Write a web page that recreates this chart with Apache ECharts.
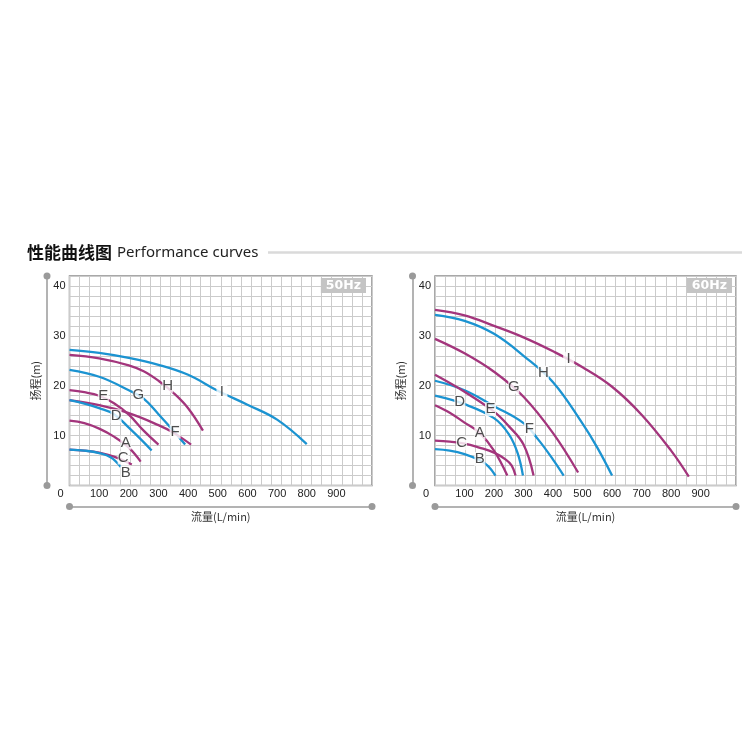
<!DOCTYPE html>
<html>
<head>
<meta charset="utf-8">
<script src="https://cdn.jsdelivr.net/npm/echarts@6/dist/echarts.min.js"></script>
<style>html,body{margin:0;padding:0;background:#fff}#c{width:750px;height:750px}</style>
</head>
<body>
<div id="c"></div>
<script>
// ---- Data (flow L/min, head m) ----
const xTickLabels = [0,100,200,300,400,500,600,700,800,900];
const yTickLabels = [10,20,30,40];

// 50Hz curves
const hz50_I = [[0,27.2],[100,26.6],[200,25.6],[300,24.2],[400,22.2],[500,19.0],[600,16.2],[700,13.2],[800,8.3]];
const hz50_H = [[0,26.2],[100,25.5],[200,24.1],[250,22.9],[300,21.0],[350,18.6],[400,15.5],[450,11.0]];
const hz50_G = [[0,23.2],[100,21.8],[200,19.1],[250,17.4],[300,14.3],[350,11.0],[390,8.2]];
const hz50_F = [[0,17.1],[100,16.1],[200,14.5],[300,12.1],[350,10.6],[410,8.2]];
const hz50_E = [[0,19.1],[50,18.7],[100,18.0],[150,16.5],[200,14.2],[250,11.0],[300,8.2]];
const hz50_D = [[0,17.1],[50,16.4],[100,15.5],[150,14.3],[200,11.6],[250,8.7],[277,7.0]];
const hz50_A = [[0,13.0],[50,12.5],[100,11.4],[150,9.8],[200,7.6],[240,4.8]];
const hz50_C = [[0,7.2],[50,7.0],[100,6.6],[150,5.8],[210,4.2]];
const hz50_B = [[0,7.2],[50,7.0],[100,6.5],[140,5.6],[173,3.7]];
const hz50_labels = [['I',514,18.8],['H',331,20.0],['G',232,18.2],['F',356,10.8],['E',114,17.9],['D',157,13.9],['A',190,8.6],['C',181,5.6],['B',190,2.6]];

// 60Hz curves
const hz60_I = [[0,35.2],[100,34.1],[200,32.0],[300,29.7],[400,26.9],[500,23.7],[600,19.8],[700,14.2],[800,7.0],[860,1.8]];
const hz60_H = [[0,34.2],[100,33.0],[200,30.4],[300,26.0],[400,20.7],[500,12.4],[550,7.6],[600,2.0]];
const hz60_G = [[0,29.4],[100,26.5],[200,22.8],[300,17.8],[400,10.5],[485,2.6]];
const hz60_F = [[0,21.0],[100,19.1],[200,15.9],[300,12.5],[350,9.2],[400,5.2],[436,2.0]];
const hz60_E = [[0,22.2],[100,18.8],[200,14.8],[250,11.9],[300,8.2],[334,2.0]];
const hz60_D = [[0,18.0],[100,16.3],[200,13.5],[250,10.3],[280,6.5],[298,2.0]];
const hz60_A = [[0,16.1],[50,14.6],[100,12.6],[150,10.6],[200,7.0],[245,2.0]];
const hz60_C = [[0,9.0],[50,8.8],[100,8.4],[150,7.6],[200,6.6],[240,5.2],[260,4.0],[273,2.0]];
const hz60_B = [[0,7.3],[50,7.0],[100,6.3],[150,5.1],[180,3.9],[205,2.0]];
const hz60_labels = [['I',453,25.4],['H',367,22.6],['G',267,19.8],['F',320,11.4],['E',188,15.3],['D',84,16.7],['A',152,10.5],['C',90,8.5],['B',152,5.3]];

// ---- Styles ----
const BLUE = '#1b93d1', MAG = '#a3357c';
const panels = [
  {grid:{left:69.5, top:276, width:302.5, height:209.5}, badge:'50Hz', badgeRight:384,
   curves:[[hz50_I,BLUE],[hz50_H,MAG],[hz50_G,BLUE],[hz50_F,MAG],[hz50_E,MAG],[hz50_D,BLUE],[hz50_A,MAG],[hz50_C,MAG],[hz50_B,BLUE]],
   labels:hz50_labels},
  {grid:{left:435, top:276, width:301, height:209.5}, badge:'60Hz', badgeRight:18,
   curves:[[hz60_I,MAG],[hz60_H,BLUE],[hz60_G,MAG],[hz60_F,BLUE],[hz60_E,MAG],[hz60_D,BLUE],[hz60_A,MAG],[hz60_C,MAG],[hz60_B,BLUE]],
   labels:hz60_labels}
];
const XMAX = 1020, YMAX = 42;
const FONT = 'Liberation Sans, Arial, sans-serif';
const GRIDC = '#cbcbcb';

const option = {
  animation:false,
  backgroundColor:'#fff',
  title:[{
    left:22, top:239,
    text:'{a|性能曲线图} {b|Performance curves}',
    textStyle:{rich:{
      a:{fontFamily:'Noto Sans CJK SC', fontWeight:'bold', fontSize:17, color:'#111'},
      b:{fontFamily:'Noto Sans', fontWeight:'normal', fontSize:15, color:'#222'}
    }}
  }],
  graphic:[{type:'line', shape:{x1:268,y1:252.5,x2:742,y2:252.5}, style:{stroke:'#dadada', lineWidth:2.5}}],
  grid:[], xAxis:[], yAxis:[], series:[]
};

panels.forEach((p, gi) => {
  option.grid.push(Object.assign({show:true, borderColor:'#8c8c8c', borderWidth:1.5, backgroundColor:'#fff'}, p.grid));
  option.title.push({
    text:p.badge, right:p.badgeRight, top:278,
    backgroundColor:'#c4c4c4', padding:[1,5,1,5],
    textStyle:{color:'#fff', fontSize:12.5, fontWeight:'bold', fontFamily:'DejaVu Sans'}
  });
  const xb = option.xAxis.length;
  option.xAxis.push({gridIndex:gi, type:'value', position:'bottom', min:0, max:XMAX, interval:100,
    axisLine:{show:false}, axisTick:{show:false}, splitLine:{show:false},
    axisLabel:{margin:3, fontSize:11, color:'#222', fontFamily:FONT, showMaxLabel:false,
      formatter:v => v === 0 ? '{z|0}' : (xTickLabels.indexOf(v) >= 0 ? String(v) : ''),
      rich:{z:{fontSize:11, color:'#222', fontFamily:FONT, padding:[0,18,0,0]}}}});
  option.xAxis.push({gridIndex:gi, type:'value', position:'bottom', min:0, max:XMAX, interval:34,
    axisLine:{show:false}, axisTick:{show:false}, axisLabel:{show:false},
    splitLine:{show:true, lineStyle:{color:GRIDC, width:1}}});
  option.xAxis.push({gridIndex:gi, type:'value', position:'bottom', offset:21, min:0, max:XMAX,
    axisLine:{show:true, onZero:false, lineStyle:{color:'#9a9a9a', width:1.5}, symbol:['circle','circle'], symbolSize:[7,7]},
    axisTick:{show:false}, axisLabel:{show:false}, splitLine:{show:false},
    name:'流量(L/min)', nameLocation:'middle', nameGap:5,
    nameTextStyle:{fontSize:11, color:'#333', fontFamily:'Noto Sans CJK SC'}});
  const yb = option.yAxis.length;
  option.yAxis.push({gridIndex:gi, type:'value', position:'left', min:0, max:YMAX, interval:2,
    axisLine:{show:false}, axisTick:{show:false},
    splitLine:{show:true, lineStyle:{color:GRIDC, width:1}},
    axisLabel:{margin:4, fontSize:11, color:'#222', fontFamily:FONT,
      formatter:v => yTickLabels.indexOf(v) >= 0 ? String(v) : ''}});
  option.yAxis.push({gridIndex:gi, type:'value', position:'left', offset:22.5, min:0, max:YMAX,
    axisLine:{show:true, onZero:false, lineStyle:{color:'#9a9a9a', width:1.5}, symbol:['circle','circle'], symbolSize:[7,7]},
    axisTick:{show:false}, axisLabel:{show:false}, splitLine:{show:false},
    name:'扬程(m)', nameLocation:'middle', nameGap:6, nameRotate:90,
    nameTextStyle:{fontSize:11, color:'#333', fontFamily:'Noto Sans CJK SC'}});
  p.curves.forEach(([data, color]) => {
    option.series.push({type:'line', xAxisIndex:xb, yAxisIndex:yb, data:data, smooth:0.4,
      showSymbol:false, symbol:'none', silent:true,
      lineStyle:{color:color, width:2.3}, z:3});
  });
  option.series.push({type:'scatter', xAxisIndex:xb, yAxisIndex:yb, silent:true, z:5,
    data:p.labels.map(l => [l[1], l[2], l[0]]),
    symbol:'rect', symbolSize:[11,14], itemStyle:{color:'#fff'},
    label:{show:true, position:'inside', formatter:q => q.value[2],
      fontSize:15, color:'#222', fontFamily:FONT}});
});

const chart = echarts.init(document.getElementById('c'), null, {renderer:'canvas'});
chart.setOption(option);
</script>
</body>
</html>
